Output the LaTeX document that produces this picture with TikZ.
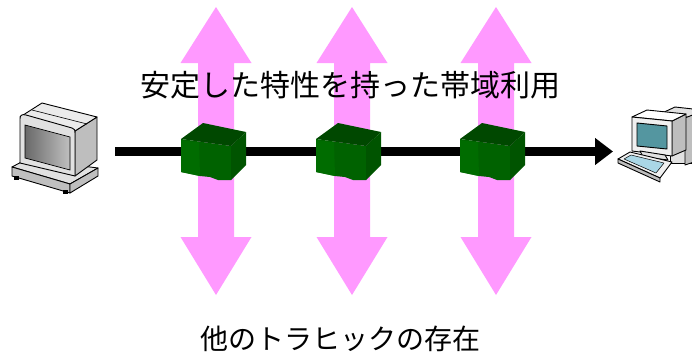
\documentclass[tikz,border=0pt]{standalone}
\usepackage{fontspec}
\newfontfamily\jpfont{Noto Sans CJK JP}
\usetikzlibrary{arrows.meta}
\definecolor{pinkarrow}{RGB}{255,153,255}
\definecolor{rtop}{RGB}{0,72,0}
\definecolor{rfront}{RGB}{0,98,0}
\definecolor{rside}{RGB}{0,84,0}
\definecolor{rlight}{RGB}{0,108,0}
\definecolor{pcface}{RGB}{225,225,225}
\definecolor{pcside}{RGB}{190,190,190}
\definecolor{pcscreen}{RGB}{150,150,150}
\definecolor{tealscreen}{RGB}{84,150,160}
\definecolor{keyblue}{RGB}{170,215,230}
\tikzset{
  traffic/.style={fill=pinkarrow,draw=none},
  flow/.style={line width=9pt,-{Triangle[length=18pt,width=26pt]}},
  pcpart/.style={draw=black,line width=0.9pt,line join=round},
  label/.style={font=\jpfont\fontsize{30}{34}\selectfont,inner sep=0pt},
  labelsm/.style={font=\jpfont\fontsize{28}{32}\selectfont,inner sep=0pt},
}
\begin{document}
\begin{tikzpicture}[x=1pt,y=-1pt]
\useasboundingbox (0,0) rectangle (692,356);
\clip (0,0) rectangle (692,356);

% pink double arrows (other traffic)
\foreach \c in {216,352,496}{
  \fill[traffic] (\c-18,63) -- (\c-35.5,63) -- (\c,7) -- (\c+35.5,63) -- (\c+18,63)
     -- (\c+18,237) -- (\c+35.5,237) -- (\c,295) -- (\c-35.5,237) -- (\c-18,237) -- cycle;
}

% end points
\coordinate (src) at (115,151.5);
\coordinate (dst) at (613,151.5);
\draw[flow] (src) -- (dst);

% routers
\foreach \a/\nm in {181/r1,316/r2,460/r3}{
  \fill[rtop] (\a,139) -- (\a+22,123) -- (\a+65,132) -- (\a+50,146) -- cycle;
  \fill[rfront] (\a,139) -- (\a+50,146) -- (\a+50,180) -- (\a+37,180) -- (\a+29,177)
     -- (\a+19,176) -- (\a,172) -- cycle;
  \fill[rlight] (\a,140) -- (\a+18,142.5) -- (\a+19,176) -- (\a,172) -- cycle;
  \fill[rside] (\a+50,146) -- (\a+65,132) -- (\a+65,165) -- (\a+50,180) -- cycle;
  \coordinate (\nm) at (\a+32,151.5);
}

% left computer (old CRT)
\begin{scope}
  \draw[pcpart,fill=pcface] (12,167) -- (27,159) -- (98,168) -- (70,184) -- cycle;
  \draw[pcpart,fill=pcface!85!black] (12,167) -- (70,184) -- (70,193) -- (12,176) -- cycle;
  \draw[pcpart,fill=pcside] (70,184) -- (98,168) -- (98,176) -- (70,193) -- cycle;
  \fill[black] (14,176) rectangle (19,180);
  \fill[black] (63,190) rectangle (68,194);
  % monitor
  \draw[pcpart,fill=pcside] (75,131) -- (97,117) -- (97,160) -- (75,176) -- cycle;
  \draw[pcpart,fill=white!92!black] (20,117) -- (42,103) -- (97,117) -- (75,131) -- cycle;
  \draw[pcpart,line width=0.6pt] (32,110) -- (87,124);
  \draw[pcpart,fill=pcface] (20,119) .. controls (20,115) and (22,114) .. (26,115)
     -- (72,128) .. controls (75,129) and (75,130) .. (75,133) -- (75,176) -- (20,163) -- cycle;
  \shade[left color=pcscreen!70!black,right color=pcscreen!60!white,draw=black,line width=0.7pt]
     (25,125) -- (70,137) -- (70,170) -- (25,158) -- cycle;
  \coordinate (pcleft) at (55,150);
\end{scope}

% right computer
\begin{scope}
  % tower behind
  \draw[pcpart,fill=pcface] (660,114) -- (675,107) -- (720,112) -- (705,119) -- cycle;
  \draw[pcpart,fill=pcface] (670,119) -- (705,119) -- (705,163) -- (670,163) -- cycle;
  \draw[pcpart,fill=pcside] (685,118) -- (700,112) -- (700,160) -- (685,165) -- cycle;
  % monitor
  \draw[pcpart,fill=pcside] (672,121) -- (686,114) -- (686,150) -- (672,156) -- cycle;
  \draw[pcpart,fill=white] (632,117) -- (647,110) -- (686,114) -- (672,121) -- cycle;
  \draw[pcpart,fill=white!94!black] (632,117) -- (672,121) -- (672,156) -- (632,151) -- cycle;
  \draw[pcpart,fill=tealscreen] (637,123) -- (667,126) -- (667,149) -- (637,146) -- cycle;
  % stand
  \draw[pcpart,fill=pcface] (640,151) -- (665,155) -- (668,160) -- (643,157) -- cycle;
  % keyboard
  \draw[pcpart,fill=white!94!black] (618,159) -- (630,152) -- (672,162) -- (660,178) -- cycle;
  \draw[pcpart,fill=pcside] (618,159) -- (660,178) -- (660,182) -- (618,163) -- cycle;
  \draw[pcpart,line width=0.5pt,fill=keyblue] (624,159) -- (631,155) -- (664,163) -- (656,173) -- cycle;
  \coordinate (pcright) at (655,140);
\end{scope}

% labels
\node[label] (lbltop) at (350.5,85) {安定した特性を持った帯域利用};
\node[labelsm] (lblbot) at (340,339) {他のトラヒックの存在};
\end{tikzpicture}
\end{document}
